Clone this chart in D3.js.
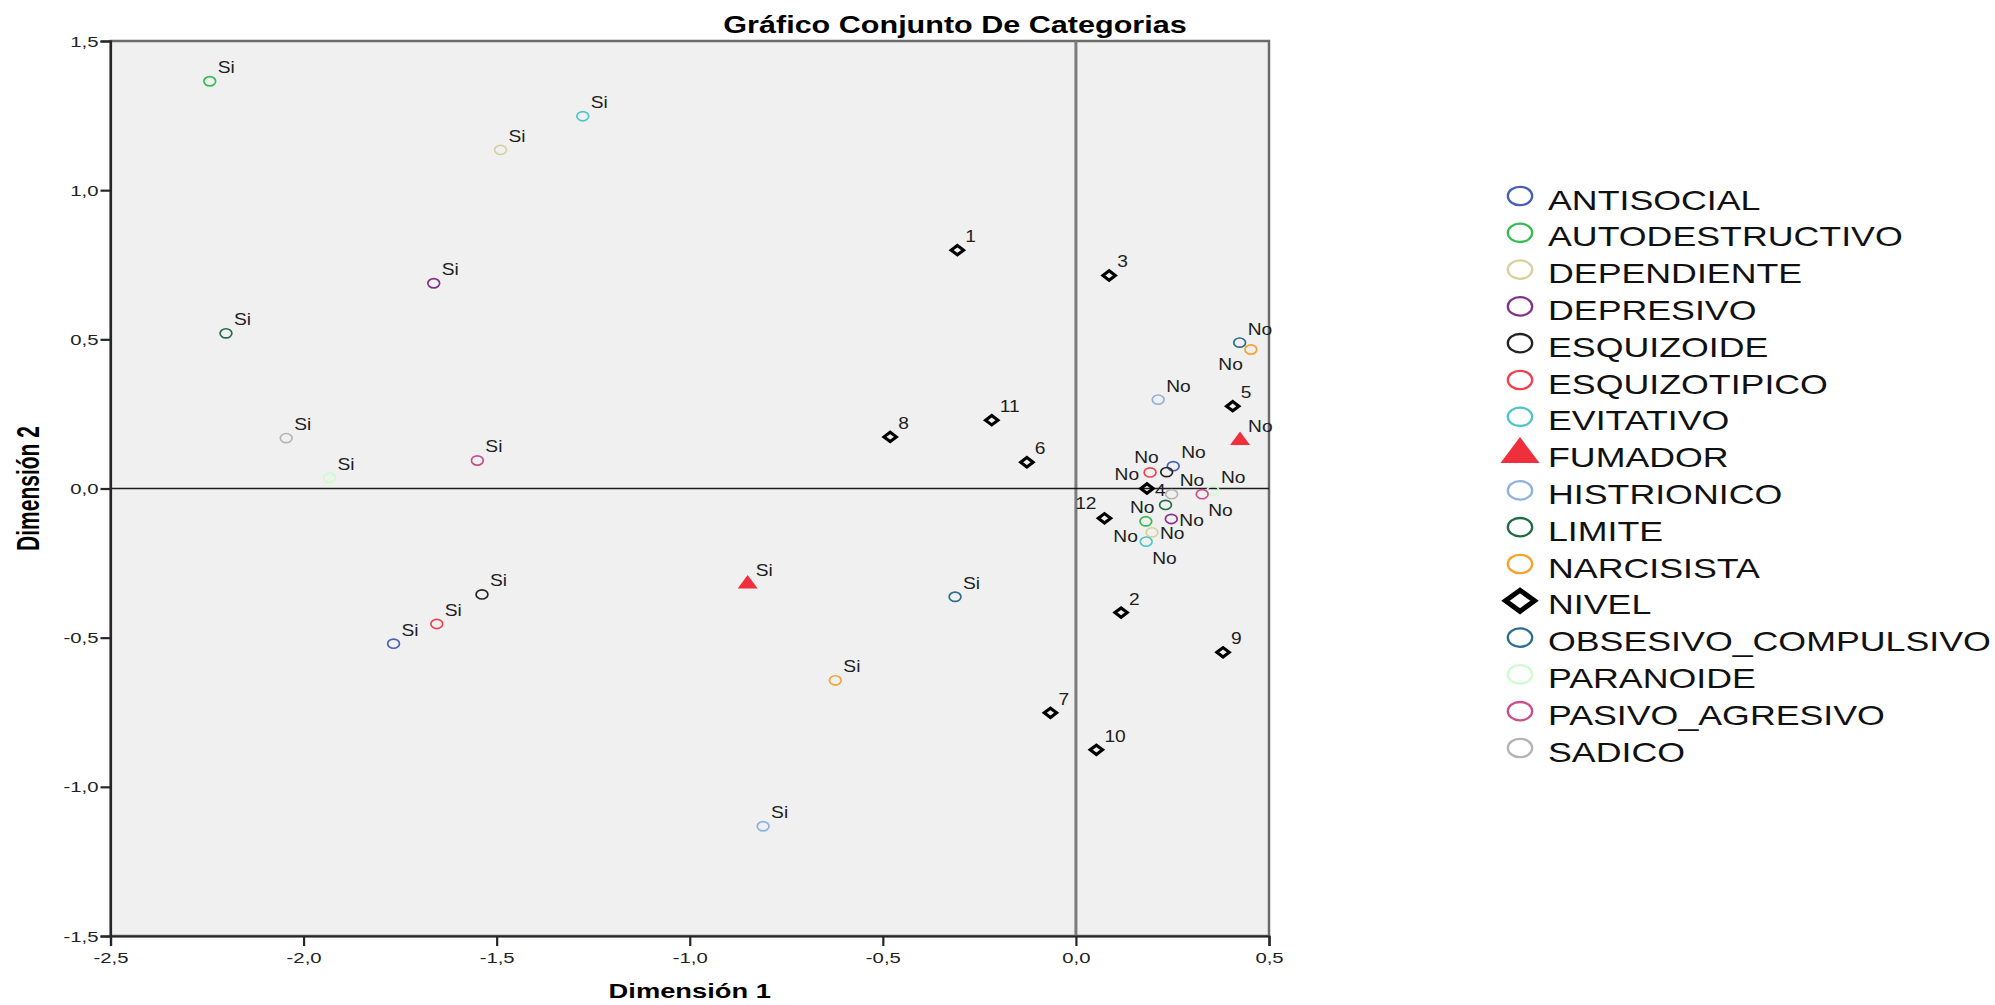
<!DOCTYPE html>
<html>
<head>
<meta charset="utf-8">
<script src="https://cdn.jsdelivr.net/npm/d3@7"></script>
<style>
  body { margin: 0; background: #fff; }
  text { font-family: "Liberation Sans", Arial, sans-serif; }
</style>
</head>
<body>
<svg id="chart"></svg>
<script>
// variables with two categories (Si / No), in legend order without NIVEL
const binaryVars = ["ANTISOCIAL", "AUTODESTRUCTIVO", "DEPENDIENTE", "DEPRESIVO", "ESQUIZOIDE",
  "ESQUIZOTIPICO", "EVITATIVO", "FUMADOR", "HISTRIONICO", "LIMITE", "NARCISISTA",
  "OBSESIVO_COMPULSIVO", "PARANOIDE", "PASIVO_AGRESIVO", "SADICO"]

const siX = [-1.767, -2.243, -1.490, -1.663, -1.538, -1.655, -1.277, -0.850, -0.810, -2.201, -0.623, -0.313, -1.933, -1.550, -2.045]
const siY = [-0.520, 1.365, 1.135, 0.688, -0.355, -0.454, 1.248, -0.320, -1.132, 0.520, -0.643, -0.363, 0.036, 0.094, 0.169]
const noX = [0.252, 0.181, 0.197, 0.247, 0.235, 0.192, 0.182, 0.425, 0.213, 0.232, 0.453, 0.424, 0.355, 0.327, 0.248]
const noY = [0.075, -0.110, -0.147, -0.102, 0.055, 0.054, -0.178, 0.161, 0.298, -0.055, 0.466, 0.489, -0.007, -0.019, -0.019]

const nivelLabels = ["1", "2", "3", "4", "5", "6", "7", "8", "9", "10", "11", "12"]
const nivelX = [-0.307, 0.117, 0.086, 0.184, 0.406, -0.127, -0.066, -0.481, 0.381, 0.053, -0.218, 0.074]
const nivelY = [0.799, -0.416, 0.714, 0.000, 0.276, 0.088, -0.752, 0.173, -0.549, -0.876, 0.229, -0.100]

// where each point label sits around its marker
const noLabelPos = ["ne", "sw", "e", "e", "nw", "w", "se", "ne", "ne", "w", "sw", "ne", "ne", "se", "ne"]
const nivelLabelPos = ["ne", "ne", "ne", "e", "ne", "ne", "ne", "ne", "ne", "ne", "ne", "nw"]

const legendItems = ["ANTISOCIAL", "AUTODESTRUCTIVO", "DEPENDIENTE", "DEPRESIVO", "ESQUIZOIDE",
  "ESQUIZOTIPICO", "EVITATIVO", "FUMADOR", "HISTRIONICO", "LIMITE", "NARCISISTA", "NIVEL",
  "OBSESIVO_COMPULSIVO", "PARANOIDE", "PASIVO_AGRESIVO", "SADICO"]

const xTicks = [-2.5, -2.0, -1.5, -1.0, -0.5, 0.0, 0.5]
const yTicks = [-1.5, -1.0, -0.5, 0.0, 0.5, 1.0, 1.5]

const colors = {
  ANTISOCIAL: "#4560b4", AUTODESTRUCTIVO: "#35bb52", DEPENDIENTE: "#d6d09c", DEPRESIVO: "#833189",
  ESQUIZOIDE: "#262222", ESQUIZOTIPICO: "#ef4250", EVITATIVO: "#4cc4c8", FUMADOR: "#ef2f3c",
  HISTRIONICO: "#8db2e2", LIMITE: "#226b43", NARCISISTA: "#f8a131", NIVEL: "#000",
  OBSESIVO_COMPULSIVO: "#2b6d8c", PARANOIDE: "#cdfccd", PASIVO_AGRESIVO: "#c94e8c", SADICO: "#b4b4b4"
}

const width = 1995, height = 1005
const plot = {left: 110.5, right: 1269, top: 41, bottom: 936}

const svg = d3.select("#chart").attr("width", width).attr("height", height)

const x = d3.scaleLinear().domain([-2.5, 0.5]).range([plot.left, plot.right])
const y = d3.scaleLinear().domain([-1.5, 1.5]).range([plot.bottom, plot.top])

const fmt = d3.formatLocale({decimal: ",", thousands: ".", grouping: [3], currency: ["", ""], minus: "-"}).format(".1f")

// the original picture is stretched sideways, so text gets a horizontal scale
const stretch = (tx, ty, sx) => `translate(${tx},${ty}) scale(${sx},1)`

// plot background and frame
svg.append("rect")
    .attr("x", plot.left).attr("y", plot.top)
    .attr("width", plot.right - plot.left).attr("height", plot.bottom - plot.top)
    .attr("fill", "#f0f0f0")
    .attr("stroke", "#6b6b6b")
    .attr("stroke-width", 2.5)

// reference lines at zero
svg.append("line")
    .attr("x1", x(0)).attr("x2", x(0)).attr("y1", plot.top).attr("y2", plot.bottom)
    .attr("stroke", "#7c7c7c").attr("stroke-width", 3)
svg.append("line")
    .attr("x1", plot.left).attr("x2", plot.right).attr("y1", y(0)).attr("y2", y(0))
    .attr("stroke", "#1c1c1c").attr("stroke-width", 1.6)

// axes
const xAxis = svg.append("g")
    .attr("transform", `translate(0,${plot.bottom})`)
    .call(d3.axisBottom(x).tickValues(xTicks).tickSize(10).tickFormat(fmt))
const yAxis = svg.append("g")
    .attr("transform", `translate(${plot.left},0)`)
    .call(d3.axisLeft(y).tickValues(yTicks).tickSize(10).tickFormat(fmt))

for (const ax of [xAxis, yAxis]) {
    ax.select(".domain").attr("stroke", "#262626").attr("stroke-width", 2.2)
    ax.selectAll(".tick line").attr("stroke", "#262626").attr("stroke-width", 2.2)
    ax.selectAll(".tick text")
        .attr("fill", "#222")
        .style("font-size", "14.5px")
        .attr("x", 0).attr("y", 0).attr("dy", null)
}
xAxis.selectAll(".tick text").attr("transform", stretch(0, 27, 1.4))
yAxis.selectAll(".tick text").attr("transform", stretch(-12, 5, 1.4))

// titles
svg.append("text")
    .attr("transform", stretch(955, 33, 1.3))
    .attr("text-anchor", "middle")
    .style("font-size", "23.5px").style("font-weight", "bold")
    .text("Gráfico Conjunto De Categorias")

svg.append("text")
    .attr("transform", stretch((plot.left + plot.right) / 2, 998, 1.3))
    .attr("text-anchor", "middle")
    .style("font-size", "21px").style("font-weight", "bold")
    .text("Dimensión 1")

svg.append("text")
    .attr("transform", `translate(39,${(plot.top + plot.bottom) / 2}) scale(1.45,1) rotate(-90)`)
    .attr("text-anchor", "middle")
    .style("font-size", "21px").style("font-weight", "bold")
    .text("Dimensión 2")

// marker shapes
const ellipse = (sel, rx, ry, sw) => sel.append("ellipse")
    .attr("rx", rx).attr("ry", ry).attr("fill", "none").attr("stroke-width", sw)
const triangle = (w, top, bottom) => `M${-w},${bottom}L${w},${bottom}L0,${top}Z`
const diamond = (w, h) => `M${-w},0L0,${-h}L${w},0L0,${h}Z`

function drawMarker(g, name, big) {
    if (name === "FUMADOR") {
        g.append("path").attr("d", big ? triangle(19.5, -16.5, 9.5) : triangle(10, -9, 4.5))
            .attr("fill", colors.FUMADOR)
    } else if (name === "NIVEL") {
        g.append("path").attr("d", big ? diamond(14.5, 10.5) : diamond(6.2, 4.7))
            .attr("fill", "none").attr("stroke", "#000").attr("stroke-width", big ? 5 : 3.1)
            .attr("stroke-linejoin", "miter")
    } else {
        (big ? ellipse(g, 12.2, 9.2, 2.3) : ellipse(g, 5.9, 4.6, 1.7)).attr("stroke", colors[name])
    }
}

const placeOffsets = {
    ne: [8, -8, "start"], e: [8, 7, "start"], se: [6, 22, "start"],
    sw: [-8, 21, "end"], w: [-11, 8, "end"], nw: [-8, -9, "end"]
}

// build the point list from the arrays
const points = []
binaryVars.forEach((v, i) => {
    points.push({name: v, px: siX[i], py: siY[i], label: "Si", pos: "ne"})
    points.push({name: v, px: noX[i], py: noY[i], label: "No", pos: noLabelPos[i]})
})
nivelLabels.forEach((l, i) => {
    points.push({name: "NIVEL", px: nivelX[i], py: nivelY[i], label: l, pos: nivelLabelPos[i]})
})

const marks = svg.append("g").selectAll("g")
    .data(points)
    .enter().append("g")
    .attr("transform", d => `translate(${x(d.px)},${y(d.py)})`)
marks.each(function(d) { drawMarker(d3.select(this), d.name, false) })

svg.append("g").selectAll("text")
    .data(points)
    .enter().append("text")
    .attr("transform", d => {
        const o = placeOffsets[d.pos]
        return stretch(x(d.px) + o[0], y(d.py) + o[1], 1.2)
    })
    .attr("text-anchor", d => placeOffsets[d.pos][2])
    .style("font-size", "16px")
    .attr("fill", "#1e1e1e")
    .text(d => d.label)

// legend
const legend = svg.append("g").selectAll("g")
    .data(legendItems)
    .enter().append("g")
    .attr("transform", (d, i) => `translate(1520,${196 + i * 36.8})`)
legend.each(function(d) { drawMarker(d3.select(this), d, true) })
legend.append("text")
    .attr("transform", stretch(28, 13.5, 1.3))
    .style("font-size", "27.5px")
    .attr("fill", "#111")
    .text(d => d)
</script>
</body>
</html>
